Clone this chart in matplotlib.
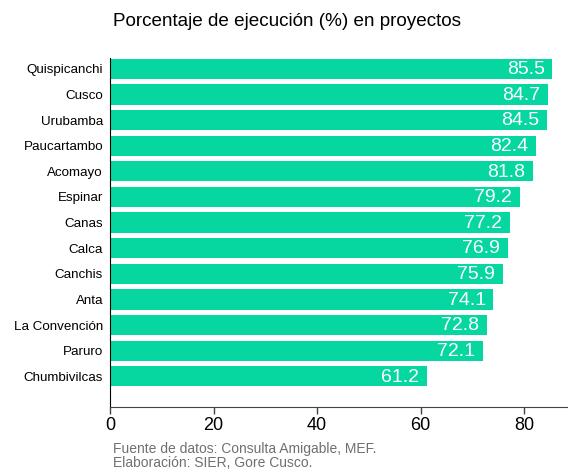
import matplotlib
matplotlib.use("Agg")
import matplotlib.pyplot as plt

plt.rcParams['font.family'] = ['Liberation Sans', 'DejaVu Sans']

provincias = ["Quispicanchi", "Cusco", "Urubamba", "Paucartambo", "Acomayo", "Espinar",
              "Canas", "Calca", "Canchis", "Anta", "La Convención", "Paruro", "Chumbivilcas"]
valores = [85.5, 84.7, 84.5, 82.4, 81.8, 79.2, 77.2, 76.9, 75.9, 74.1, 72.8, 72.1, 61.2]
xticks = [0, 20, 40, 60, 80]

W, H = 568, 469
fig = plt.figure(figsize=(W/100, H/100), dpi=100)
ax = fig.add_axes([110/W, 1-407/H, (568-110)/W, (407-58)/H])

y = list(range(len(provincias)))
ax.barh(y, valores, height=0.79, color='#06d6a0')
for yi, v in zip(y, valores):
    ax.text(v - 1.5, yi + 0.03, f"{v:.1f}", ha='right', va='center', color='white', fontsize=14)

ax.set_ylim(13.2, -0.42)
ax.set_xlim(0, 88.5)
ax.set_yticks(y)
ax.set_yticklabels(provincias, fontsize=9.6)
ax.set_xticks(xticks)
ax.set_xticklabels([str(t) for t in xticks], fontsize=13)
ax.tick_params(axis='y', length=0, pad=5)
ax.tick_params(axis='x', length=5, width=1, color='#444444', pad=2)
ax.spines['bottom'].set_color('#444444')
for s in ['top', 'right']:
    ax.spines[s].set_visible(False)

fig.text(113/W, 1-22/H, "Porcentaje de ejecución (%) en proyectos", fontsize=13.6, va='center', ha='left')
fig.text(113/W, 1-449/H, "Fuente de datos: Consulta Amigable, MEF.", fontsize=10, color='#707070', va='center')
fig.text(113/W, 1-463/H, "Elaboración: SIER, Gore Cusco.", fontsize=10, color='#707070', va='center')

fig.savefig("out.png", dpi=100)
